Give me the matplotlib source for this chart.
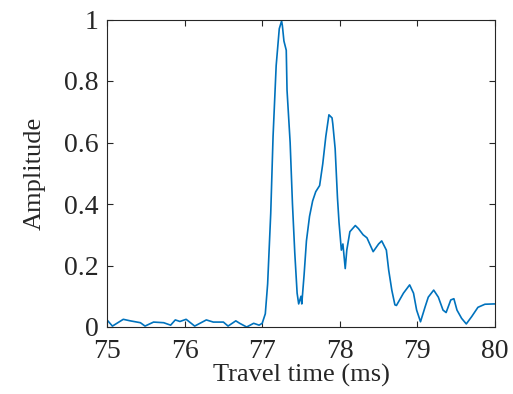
import numpy as np
import matplotlib.pyplot as plt

plt.rcParams['font.family'] = ['Liberation Serif', 'DejaVu Serif']

# 采样点读自原图
t = [75.00, 75.07, 75.21, 75.30, 75.43, 75.49, 75.60, 75.73, 75.82, 75.88,
     75.94, 76.02, 76.13, 76.28, 76.37, 76.50, 76.56, 76.66, 76.71, 76.80,
     76.89, 76.96, 77.00, 77.04, 77.07, 77.11, 77.14, 77.18, 77.22, 77.25,
     77.26, 77.28, 77.31, 77.32, 77.36, 77.39, 77.42, 77.45, 77.47, 77.50,
     77.51, 77.54, 77.57, 77.61, 77.65, 77.69, 77.74, 77.78, 77.82, 77.86,
     77.90, 77.91, 77.94, 77.97, 77.99, 78.02, 78.04, 78.07, 78.09, 78.13,
     78.20, 78.24, 78.30, 78.35, 78.43, 78.50, 78.54, 78.60, 78.63, 78.67,
     78.71, 78.73, 78.82, 78.90, 78.95, 78.99, 79.04, 79.10, 79.14, 79.21,
     79.27, 79.33, 79.37, 79.43, 79.47, 79.51, 79.57, 79.63, 79.70, 79.78,
     79.87, 79.98, 80.00]
amp = [0.023, 0.003, 0.025, 0.020, 0.014, 0.003, 0.016, 0.014, 0.006, 0.023,
       0.018, 0.025, 0.003, 0.023, 0.016, 0.016, 0.003, 0.020, 0.012, 0.000,
       0.012, 0.006, 0.012, 0.043, 0.140, 0.370, 0.620, 0.850, 0.970, 0.995,
       0.980, 0.930, 0.900, 0.770, 0.600, 0.400, 0.240, 0.110, 0.075, 0.100,
       0.075, 0.170, 0.280, 0.360, 0.410, 0.440, 0.460, 0.530, 0.620, 0.690,
       0.680, 0.660, 0.580, 0.420, 0.340, 0.250, 0.270, 0.190, 0.250, 0.310,
       0.330, 0.320, 0.300, 0.290, 0.245, 0.270, 0.280, 0.250, 0.185, 0.120,
       0.072, 0.070, 0.110, 0.137, 0.110, 0.055, 0.017, 0.066, 0.097, 0.120,
       0.097, 0.055, 0.047, 0.088, 0.092, 0.055, 0.028, 0.010, 0.034, 0.064,
       0.074, 0.075, 0.075]

fig = plt.figure(figsize=(5.13, 3.94), dpi=100)
ax = fig.add_axes([107/513, 1-327/394, (495-107)/513, (327-19.5)/394])
ax.plot(t, amp, color='#0072BD', lw=1.2)
ax.set_xlim(75, 80)
ax.set_ylim(0, 1)
ax.set_xticks([75, 76, 77, 78, 79, 80])
ax.set_yticks([0, 0.2, 0.4, 0.6, 0.8, 1])
ax.set_yticklabels(['0', '0.2', '0.4', '0.6', '0.8', '1'])
ax.tick_params(direction='in', top=True, right=True, length=4, width=0.8,
               labelsize=20, colors='#262626')
ax.tick_params(axis='x', pad=8.5)
ax.tick_params(axis='y', pad=6)
for s in ax.spines.values():
    s.set_color('#262626')
    s.set_linewidth(0.8)
ax.set_xlabel('Travel time (ms)', fontsize=19, color='#262626', labelpad=0)
ax.set_ylabel('Amplitude', fontsize=19, color='#262626', labelpad=13)
fig.savefig('out.png', dpi=100)
